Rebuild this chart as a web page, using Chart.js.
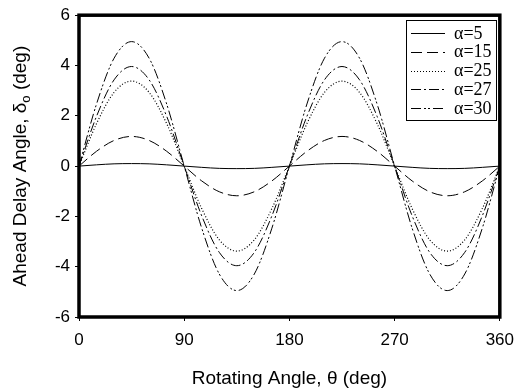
<!DOCTYPE html>
<html>
<head>
<meta charset="utf-8">
<script src="https://cdn.jsdelivr.net/npm/chart.js@4/dist/chart.umd.min.js"></script>
<style>
  html, body { margin: 0; padding: 0; background: #fff; }
  #wrap { width: 523px; height: 392px; }
</style>
</head>
<body>
<div id="wrap"><canvas id="chart" width="523" height="392"></canvas></div>
<script>
const THETA = [0, 15, 30, 45, 60, 75, 90, 105, 120, 135, 150, 165, 180,
  195, 210, 225, 240, 255, 270, 285, 300, 315, 330, 345, 360];

const SERIES_LABELS = ['α=5', 'α=15', 'α=25', 'α=27', 'α=30'];

const ALPHA_5 = [0, 0.05, 0.09, 0.10, 0.09, 0.05, 0, -0.05, -0.09, -0.10, -0.09, -0.05, 0,
  0.05, 0.09, 0.10, 0.09, 0.05, 0, -0.05, -0.09, -0.10, -0.09, -0.05, 0];
const ALPHA_15 = [0, 0.59, 1.02, 1.18, 1.02, 0.59, 0, -0.59, -1.02, -1.18, -1.02, -0.59, 0,
  0.59, 1.02, 1.18, 1.02, 0.59, 0, -0.59, -1.02, -1.18, -1.02, -0.59, 0];
const ALPHA_25 = [0, 1.69, 2.93, 3.38, 2.93, 1.69, 0, -1.69, -2.93, -3.38, -2.93, -1.69, 0,
  1.69, 2.93, 3.38, 2.93, 1.69, 0, -1.69, -2.93, -3.38, -2.93, -1.69, 0];
const ALPHA_27 = [0, 1.98, 3.43, 3.96, 3.43, 1.98, 0, -1.98, -3.43, -3.96, -3.43, -1.98, 0,
  1.98, 3.43, 3.96, 3.43, 1.98, 0, -1.98, -3.43, -3.96, -3.43, -1.98, 0];
const ALPHA_30 = [0, 2.47, 4.29, 4.95, 4.29, 2.47, 0, -2.47, -4.29, -4.95, -4.29, -2.47, 0,
  2.47, 4.29, 4.95, 4.29, 2.47, 0, -2.47, -4.29, -4.95, -4.29, -2.47, 0];

const X_TICKS = [0, 90, 180, 270, 360];
const Y_TICKS = [-6, -4, -2, 0, 2, 4, 6];

const DASHES = [[], [11, 5], [1, 2], [10, 3, 2, 3], [10, 3, 2, 2, 2, 3]];
const WIDTHS = [1, 1, 1.2, 1, 1];

const SANS = '"Liberation Sans", Arial, sans-serif';

function toPoints(values) {
  return values.map(function (v, i) {
    return { x: THETA[i], y: v };
  });
}

const allSeries = [ALPHA_5, ALPHA_15, ALPHA_25, ALPHA_27, ALPHA_30];

const datasets = allSeries.map(function (values, i) {
  return {
    label: SERIES_LABELS[i],
    data: toPoints(values),
    borderColor: '#000',
    borderWidth: WIDTHS[i],
    borderDash: DASHES[i],
    pointRadius: 0,
    cubicInterpolationMode: 'monotone',
    fill: false
  };
});

// y title drawn by hand so the subscript o sits low and small
function drawYTitle(ctx, cx, cy) {
  const main = '19px ' + SANS;
  const sub = '13px ' + SANS;
  const parts = [
    { text: 'Ahead Delay Angle, δ', font: main, dy: 0 },
    { text: 'o', font: sub, dy: 5 },
    { text: ' (deg)', font: main, dy: 0 }
  ];
  let total = 0;
  parts.forEach(function (p) {
    ctx.font = p.font;
    p.w = ctx.measureText(p.text).width;
    total += p.w;
  });
  ctx.save();
  ctx.translate(cx, cy);
  ctx.rotate(-Math.PI / 2);
  ctx.fillStyle = '#000';
  ctx.textAlign = 'left';
  ctx.textBaseline = 'middle';
  let x = -total / 2;
  parts.forEach(function (p) {
    ctx.font = p.font;
    ctx.fillText(p.text, x, p.dy);
    x += p.w;
  });
  ctx.restore();
}

// thick box round the plot plus the framed legend
const framePlugin = {
  id: 'frame',
  afterDraw: function (chart) {
    const ctx = chart.ctx;
    const a = chart.chartArea;
    ctx.save();
    ctx.strokeStyle = '#000';
    ctx.lineWidth = 3.5;
    ctx.strokeRect(a.left, a.top, a.right - a.left, a.bottom - a.top);

    const bx = 406, by = 20, bw = 90, bh = 100;
    ctx.fillStyle = '#fff';
    ctx.fillRect(bx, by, bw, bh);
    ctx.lineWidth = 1;
    ctx.strokeRect(bx + 0.5, by + 0.5, bw, bh);
    ctx.font = '18px "Liberation Serif", "Times New Roman", serif';
    ctx.textBaseline = 'middle';
    ctx.fillStyle = '#000';
    SERIES_LABELS.forEach(function (label, i) {
      const y = 33 + i * 18.75;
      ctx.beginPath();
      ctx.setLineDash(DASHES[i]);
      ctx.lineWidth = WIDTHS[i];
      ctx.moveTo(411, Math.round(y) + 0.5);
      ctx.lineTo(445, Math.round(y) + 0.5);
      ctx.stroke();
      ctx.setLineDash([]);
      ctx.fillText(label, 454, y + 1);
    });
    ctx.restore();

    drawYTitle(ctx, 21, (a.top + a.bottom) / 2);
  }
};

new Chart(document.getElementById('chart'), {
  type: 'line',
  data: { datasets: datasets },
  options: {
    responsive: false,
    animation: false,
    layout: { padding: { left: 0, right: 21, top: 15, bottom: 0 } },
    plugins: {
      legend: { display: false },
      tooltip: { enabled: false }
    },
    scales: {
      x: {
        type: 'linear',
        min: 0,
        max: 360,
        afterBuildTicks: function (axis) {
          axis.ticks = X_TICKS.map(function (v) { return { value: v }; });
        },
        afterFit: function (axis) { axis.height = 75; },
        grid: { drawOnChartArea: false, drawTicks: true, tickLength: 4, color: '#000' },
        border: { display: false },
        ticks: {
          color: '#000',
          padding: 9,
          maxRotation: 0,
          font: { family: SANS, size: 17 }
        },
        title: {
          display: true,
          text: 'Rotating Angle, θ (deg)',
          color: '#000',
          padding: { top: 0, bottom: 2 },
          font: { family: SANS, size: 19 }
        }
      },
      y: {
        type: 'linear',
        min: -6,
        max: 6,
        afterBuildTicks: function (axis) {
          axis.ticks = Y_TICKS.map(function (v) { return { value: v }; });
        },
        afterFit: function (axis) { axis.width = 79; },
        grid: { drawOnChartArea: false, drawTicks: true, tickLength: 4, color: '#000' },
        border: { display: false },
        ticks: {
          color: '#000',
          padding: 5,
          font: { family: SANS, size: 17 }
        },
        title: { display: false }
      }
    }
  },
  plugins: [framePlugin]
});
</script>
</body>
</html>
